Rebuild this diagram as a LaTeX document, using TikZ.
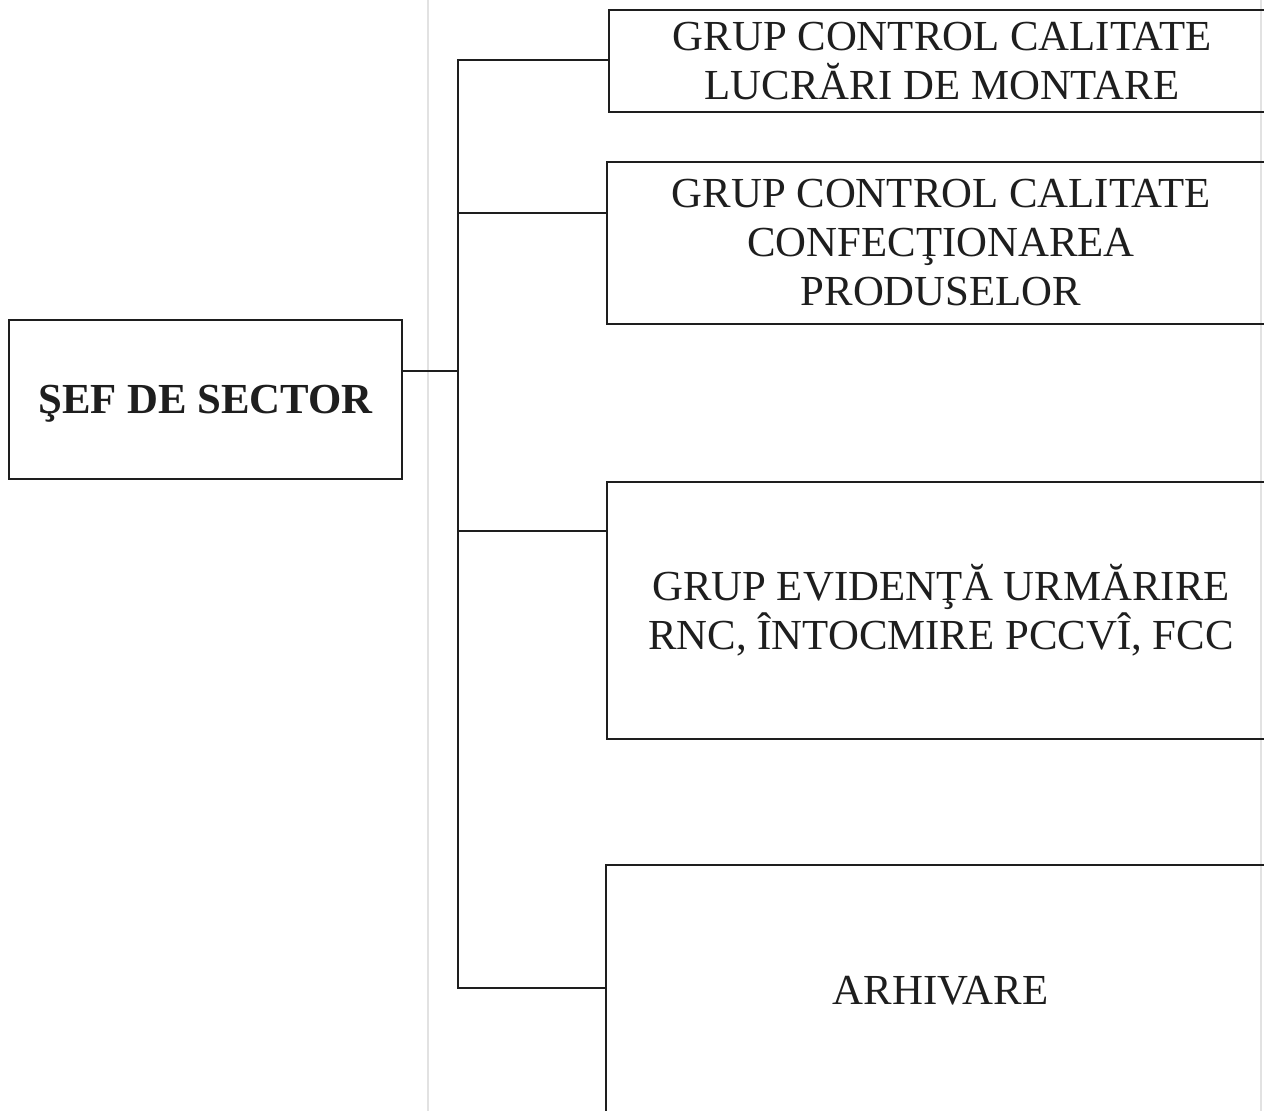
\documentclass[tikz,border=0pt]{standalone}
\usepackage{fontspec}
\setmainfont{Liberation Serif}
\definecolor{ink}{HTML}{1E1E1E}
\definecolor{faint}{HTML}{E2E2E2}
\begin{document}
\begin{tikzpicture}[x=0.5pt,y=-0.5pt,
  box/.style={draw=ink, line width=1pt, rectangle, inner sep=0pt, align=center,
    text=ink, font=\fontsize{21.4pt}{24.5pt}\selectfont},
  wire/.style={draw=ink, line width=1pt},
  scanline/.style={draw=faint, line width=1.2pt}]
\useasboundingbox (0,0) rectangle (1264,1111);
\clip (0,0) rectangle (1264,1111);
\fill[white] (0,0) rectangle (1264,1111);
% faint scan lines
\draw[scanline] (428,0) -- (428,1111);
\draw[scanline] (1261,0) -- (1261,1111);
% boxes
\node[box, font=\fontsize{21.4pt}{24.5pt}\selectfont\bfseries,
  text height=14.2pt, text depth=0pt,
  minimum width=196.5pt, minimum height=79.5pt] (sef) at (205.5,399.5) {ŞEF DE SECTOR};
\node[box, minimum width=333pt, minimum height=51pt] (b1) at (942,61)
  {GRUP CONTROL CALITATE\\LUCRĂRI DE MONTARE};
\node[box, minimum width=334pt, minimum height=81pt] (b2) at (941,243)
  {GRUP CONTROL CALITATE\\CONFECŢIONAREA\\PRODUSELOR};
\node[box, minimum width=334pt, minimum height=128.5pt] (b3) at (941,610.5)
  {GRUP EVIDENŢĂ URMĂRIRE\\RNC, ÎNTOCMIRE PCCVÎ, FCC};
\node[box, minimum width=334.5pt, minimum height=125.5pt] (b4) at (940.5,990.5)
  {ARHIVARE};
% junctions
\coordinate (j0) at (458,371);
\coordinate (j1) at (458,60);
\coordinate (j2) at (458,213);
\coordinate (j3) at (458,531);
\coordinate (j4) at (458,988);
% connectors
\draw[wire] (sef.east |- j0) -- (j0);
\draw[wire] (b1.west |- j1) -- (j1) -- (j4) -- (b4.west |- j4);
\draw[wire] (j2) -- (b2.west |- j2);
\draw[wire] (j3) -- (b3.west |- j3);
\end{tikzpicture}
\end{document}
